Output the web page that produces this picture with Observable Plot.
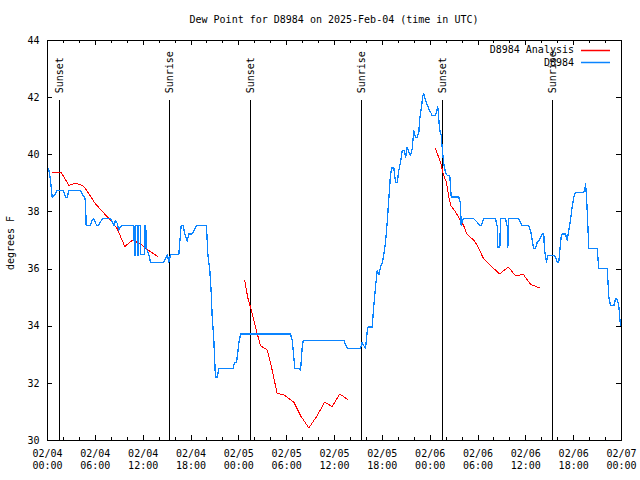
<!DOCTYPE html>
<html><head><meta charset="utf-8">
<script src="https://cdn.jsdelivr.net/npm/d3@7"></script>
<script src="https://cdn.jsdelivr.net/npm/@observablehq/plot@0.6"></script>
<style>body{margin:0;background:#fff}#chart svg{display:block}</style>
</head><body><div id="chart"></div>
<script>
// Hours since 2025-02-04 00:00 UTC
const blueHours = [0.16,0.38,0.59,0.79,1.0,1.22,2.0,2.26,2.47,2.67,4.14,4.35,4.68,4.77,4.85,5.39,5.6,5.81,6.02,6.23,6.43,6.65,6.86,7.9,8.12,8.32,8.53,8.74,8.94,9.16,9.37,10.83,10.91,10.99,11.04,11.33,11.36,11.41,11.45,11.67,11.70,12.17,12.21,12.33,12.38,12.54,12.71,12.92,14.59,14.8,15.02,15.22,15.43,16.47,16.68,16.77,17.02,17.19,17.52,17.72,18.15,18.69,19.94,20.11,20.36,20.53,20.66,20.86,20.99,21.07,21.29,21.49,23.29,23.46,23.71,23.87,24.0,24.21,30.48,30.7,30.9,31.02,31.65,31.74,31.95,32.07,37.17,37.38,37.6,39.26,39.47,39.67,39.89,40.1,40.18,40.73,40.93,41.14,41.36,41.56,41.77,41.98,42.19,42.4,42.61,42.81,43.03,43.24,43.44,43.65,43.87,44.07,44.28,44.49,44.78,44.91,45.12,45.32,45.53,45.74,45.95,46.16,46.37,46.58,46.7,46.88,47.08,47.2,47.42,47.83,48.13,48.26,48.67,48.88,48.95,49.05,49.17,49.39,49.55,49.71,49.92,50.14,50.46,50.55,50.64,51.59,51.8,51.89,52.14,53.47,53.9,54.23,54.4,54.73,56.2,56.41,56.49,56.74,56.82,57.45,57.66,57.74,57.86,59.12,59.33,59.55,60.37,60.59,60.8,61.0,61.21,61.43,61.63,61.84,62.05,62.25,62.34,62.47,62.59,62.72,63.51,63.72,63.93,64.13,64.26,64.43,64.56,64.97,65.19,65.39,65.6,65.81,66.02,66.23,67.28,67.4,67.49,67.57,67.7,67.9,68.95,69.15,70.21,70.41,70.62,71.04,71.25,71.46,71.66,71.87];
const blueValues = [39.5,39.1,38.5,38.57,38.63,38.75,38.75,38.5,38.5,38.75,38.75,38.63,38.5,38.3,37.53,37.53,37.7,37.77,37.6,37.53,37.53,37.65,37.76,37.76,37.64,37.52,37.7,37.6,37.35,37.5,37.52,37.52,36.47,36.47,37.52,37.52,36.47,36.47,37.52,37.52,36.5,36.5,37.52,37.52,36.7,36.65,36.5,36.24,36.24,36.36,36.51,36.24,36.51,36.51,37.23,37.52,37.52,37.25,36.97,37.23,37.23,37.52,37.52,36.53,35.95,35.2,34.31,33.56,32.68,32.22,32.22,32.51,32.51,32.74,32.74,33.09,33.4,33.73,33.73,33.5,32.9,32.51,32.51,32.45,33.27,33.5,33.5,33.35,33.23,33.23,33.44,33.32,33.23,33.79,33.97,33.97,34.72,35.37,35.95,35.8,36.07,36.2,36.53,36.94,37.64,38.46,39.33,39.56,39.56,39.04,39.04,39.45,39.74,40.15,40.15,39.9,40.27,40.1,39.98,40.2,40.85,40.6,40.6,40.8,41.26,41.61,42.07,42.13,41.9,41.61,41.45,41.37,41.37,41.61,41.67,41.4,40.9,40.67,40.09,39.68,39.39,39.28,39.28,38.9,38.52,38.52,38.3,37.52,37.76,37.76,37.64,37.52,37.52,37.76,37.76,37.5,36.77,36.77,37.76,37.76,37.5,36.77,37.76,37.76,37.64,37.52,37.52,37.35,37.0,36.71,36.71,36.94,37.0,37.11,37.23,37.23,36.65,36.47,36.24,36.47,36.47,36.41,36.24,36.24,36.65,37.11,37.23,37.23,37.0,37.35,37.7,38.17,38.52,38.69,38.69,38.8,38.98,38.69,38.05,36.71,36.71,36.01,36.01,35.02,34.72,34.72,34.95,34.95,34.72,34.02];
// Analysis series (NaN separates the three runs)
const redHours = [0.67,1.75,2.68,3.51,4.35,4.77,6.02,8.11,8.74,9.7,10.7,11.9,12.7,13.76,14,
  24.75,25.1,25.46,26.1,26.7,27.56,28.06,28.8,29.64,30.9,31.74,32.78,33.83,34.75,35.7,36.67,37.7,38,
  48.67,49.3,49.7,50.05,50.3,50.6,51.2,51.8,52.2,52.6,53.5,53.9,54.7,55.6,56.7,57.8,58.7,59.7,60.6,61.75];
const redValues = [39.37,39.37,38.93,39.0,38.93,38.81,38.28,37.64,37.41,36.79,37.02,36.83,36.65,36.45,NaN,
  35.6,35.02,34.67,33.97,33.32,33.17,32.62,31.65,31.6,31.34,30.87,30.44,30.87,31.34,31.19,31.63,31.42,NaN,
  40.21,39.74,39.27,39.04,38.58,38.22,37.99,37.7,37.52,37.23,37.0,36.83,36.36,36.12,35.83,36.07,35.77,35.81,35.46,35.34];
const sunHours = [1.5, 15.3, 25.46, 39.4, 49.55, 63.35];
const sunLabels = ["Sunset","Sunrise","Sunset","Sunrise","Sunset","Sunrise"];
const xTickHours = [0,6,12,18,24,30,36,42,48,54,60,66,72];
const xTickLabels = ["02/04\n00:00","02/04\n06:00","02/04\n12:00","02/04\n18:00","02/05\n00:00","02/05\n06:00","02/05\n12:00","02/05\n18:00","02/06\n00:00","02/06\n06:00","02/06\n12:00","02/06\n18:00","02/07\n00:00"];
const yTicks = [30,32,34,36,38,40,42,44];
const seriesNames = ["D8984 Analysis","D8984"];
const seriesColors = ["#ff0000","#0a84ff"];
const titleText = "Dew Point for D8984 on 2025-Feb-04 (time in UTC)";
const yLabelText = "degrees F";

const blue = blueHours.map((h,i)=>({h, v: blueValues[i]}));
const red = redHours.map((h,i)=>({h, v: redValues[i]}));
const sun = sunHours.map((h,i)=>({h, label: sunLabels[i]}));
const minorX = d3.range(0, 73, 2);
const font = "DejaVu Sans Mono, monospace";

const plot = Plot.plot({
  width: 640, height: 480,
  marginLeft: 47, marginRight: 19, marginTop: 40, marginBottom: 40,
  style: {fontFamily: font, fontSize: "10px", background: "#fff", color: "#000"},
  x: {domain: [0, 72]},
  y: {domain: [30, 44]},
  marks: [
    Plot.frame({stroke: "#000", strokeWidth: 1, shapeRendering: "crispEdges"}),
    Plot.tickX(minorX, {x: d=>d, insetTop: 397, stroke: "#000", shapeRendering: "crispEdges"}),
    Plot.tickX(minorX, {x: d=>d, insetBottom: 397, stroke: "#000", shapeRendering: "crispEdges"}),
    Plot.tickX(xTickHours, {x: d=>d, insetTop: 395, stroke: "#000", shapeRendering: "crispEdges"}),
    Plot.tickX(xTickHours, {x: d=>d, insetBottom: 395, stroke: "#000", shapeRendering: "crispEdges"}),
    Plot.tickY(yTicks, {y: d=>d, insetRight: 569, stroke: "#000", shapeRendering: "crispEdges"}),
    Plot.tickY(yTicks, {y: d=>d, insetLeft: 569, stroke: "#000", shapeRendering: "crispEdges"}),
    Plot.axisX({ticks: xTickHours, tickSize: 0, tickPadding: 8, lineHeight: 1.2,
      tickFormat: h => xTickLabels[xTickHours.indexOf(h)], label: null, fill: "#000"}),
    Plot.axisY({ticks: yTicks, tickSize: 0, tickPadding: 8, label: null, fill: "#000"}),
    Plot.ruleX(sun, {x: "h", y1: 30, y2: 41.9, stroke: "#000", strokeWidth: 1, shapeRendering: "crispEdges"}),
    Plot.text(sun, {x: "h", y: 42.15, text: "label", rotate: -90, textAnchor: "start", lineAnchor: "middle", fill: "#000"}),
    Plot.line(red, {x: "h", y: "v", stroke: seriesColors[0], strokeWidth: 1, shapeRendering: "crispEdges"}),
    Plot.line(blue, {x: "h", y: "v", stroke: seriesColors[1], strokeWidth: 1.3, shapeRendering: "crispEdges"})
  ]
});

const svg = d3.select(plot);
svg.append("text").attr("x", 334).attr("y", 19).attr("text-anchor", "middle")
  .attr("dominant-baseline", "central").attr("font-family", font).attr("font-size", 10).attr("fill", "#000").text(titleText);
svg.append("text").attr("transform", "translate(10,243) rotate(-90)").attr("text-anchor", "middle")
  .attr("dominant-baseline", "central").attr("font-family", font).attr("font-size", 10).attr("fill", "#000").text(yLabelText);
const lg = svg.append("g");
seriesNames.forEach((name, i) => {
  const y = 49.5 + i * 12.8;
  lg.append("text").attr("x", 574).attr("y", y).attr("text-anchor", "end").attr("dominant-baseline", "central")
    .attr("font-family", font).attr("font-size", 10).attr("fill", "#000").text(name);
  lg.append("line").attr("x1", 581).attr("x2", 610).attr("y1", Math.round(y) + 0.5).attr("y2", Math.round(y) + 0.5)
    .attr("stroke", seriesColors[i]).attr("stroke-width", 1.5);
});
document.getElementById("chart").appendChild(plot);
</script>
</body></html>
